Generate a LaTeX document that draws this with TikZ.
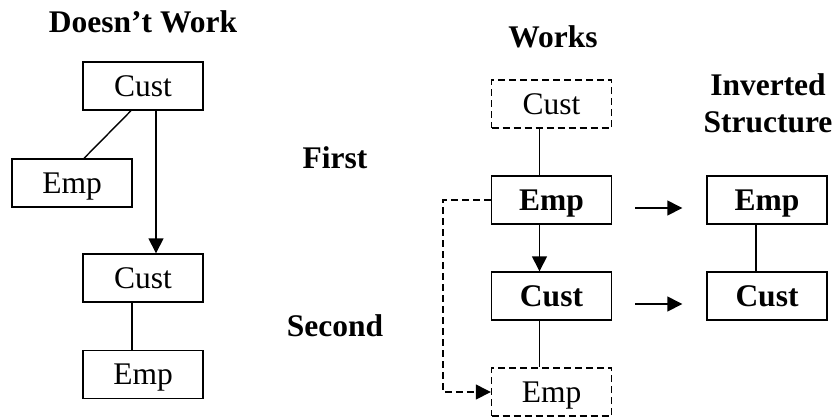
\documentclass[tikz,border=0pt]{standalone}
\usepackage{fontspec}
\setmainfont{Liberation Serif}
\usetikzlibrary{arrows.meta}

\begin{document}
\fontsize{15.75}{18.5}\selectfont
\begin{tikzpicture}[x=0.5pt,y=-0.5pt,line width=0.7pt,
    box/.style={draw,minimum width=60pt,minimum height=24pt,inner sep=0pt,
        text height=10.4pt,text depth=0pt},
    dashbox/.style={box,dash pattern=on 3.5pt off 2pt},
    txt/.style={font=\bfseries,inner sep=0pt,text height=10.4pt,text depth=0pt},
    head/.style={font=\bfseries,inner sep=0pt,align=center},
    tip/.style={-{Triangle[length=7.5pt,width=7.5pt]}}]
    \useasboundingbox (0,0) rectangle (835,419);
    % doesn't work
    \node[txt] (tNo) at (143,22) {Doesn’t Work};
    \node[box] (custA) at (143,86) {Cust};
    \node[box] (empA) at (72,183) {Emp};
    \node[box] (custB) at (143,278) {Cust};
    \node[box] (empB) at (143,374.5) {Emp};
    \draw ([xshift=-6pt]custA.south) -- ([xshift=6pt]empA.north);
    \draw[tip] ([xshift=6.5pt]custA.south) -- ([xshift=6.5pt]custB.north);
    \draw ([xshift=-5.5pt]custB.south) -- ([xshift=-5.5pt]empB.north);
    % first / second
    \node[txt] (tFirst) at (335,158) {First};
    \node[txt] (tSecond) at (335,326) {Second};
    % works
    \node[txt] (tYes) at (553,37) {Works};
    \node[dashbox] (custW) at (551.5,104) {Cust};
    \node[box,font=\bfseries] (empW) at (551.5,200) {Emp};
    \node[box,font=\bfseries] (custX) at (551.5,296) {Cust};
    \node[dashbox] (empX) at (551.5,392) {Emp};
    \draw ([xshift=-6pt]custW.south) -- ([xshift=-6pt]empW.north);
    \draw[tip] ([xshift=-6pt]empW.south) -- ([xshift=-6pt]custX.north);
    \draw ([xshift=-6pt]custX.south) -- ([xshift=-6pt]empX.north);
    \draw[tip,dash pattern=on 3.5pt off 2pt] (empW.west) -- ++(-24pt,0) |- (empX.west);
    % inverted structure
    \node[head] (tInv) at (768,103.5) {Inverted\\Structure};
    \node[box,font=\bfseries] (empI) at (767,200) {Emp};
    \node[box,font=\bfseries] (custI) at (767,296) {Cust};
    \draw ([xshift=-5.5pt]empI.south) -- ([xshift=-5.5pt]custI.north);
    \draw[tip] ([shift={(11.5pt,-4pt)}]empW.east) -- ([shift={(-12pt,-4pt)}]empI.west);
    \draw[tip] ([shift={(11.5pt,-4pt)}]custX.east) -- ([shift={(-12pt,-4pt)}]custI.west);
\end{tikzpicture}
\end{document}
